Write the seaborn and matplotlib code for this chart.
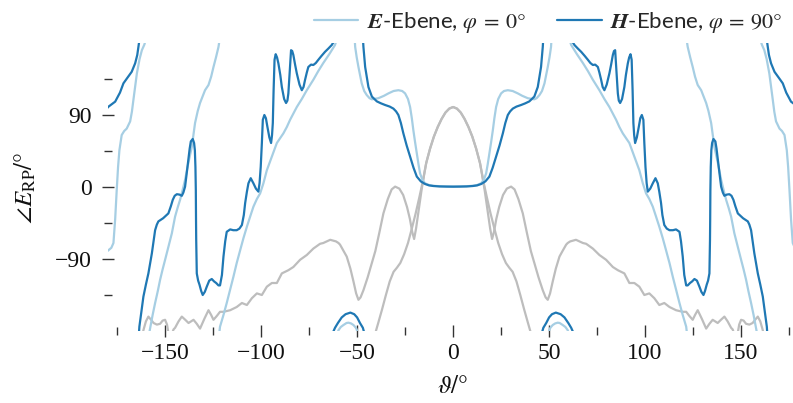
import matplotlib
matplotlib.use("Agg")
import matplotlib.pyplot as plt
from matplotlib.lines import Line2D
from matplotlib.ticker import MultipleLocator
import pandas as pd
import seaborn as sns

# ---------------------------------------------------------------------------
# Phase of the radiated far field vs. elevation angle (values for theta <= 0;
# the pattern is symmetric in theta, the other half is its mirror image).
# Segments are split where the phase wraps around at +/-180 degrees.
# ---------------------------------------------------------------------------

# E-plane (phi = 0 deg)
E_THETA_1 = [-180, -179.5, -178, -176.9, -176, -175.2, -174.5, -173.8, -172.6, -171.3, -170, -168.2,
             -167.3, -166.5, -164.7, -163.3, -162.1, -160.8, -160.2]
E_PHASE_1 = [-80, -79, -76, -70, -40, -4, 25, 46, 65, 70, 73, 82,
             94, 109, 142, 160, 171, 178, 183]
E_THETA_2 = [-158.3, -157.8, -156.5, -155.2, -153.8, -152.6, -151.3, -150, -148.3, -146.5, -144.8,
             -143.5, -142.2, -140.9, -139.6, -137.9, -136.1, -134.4, -133, -131.8, -129.2, -127.4,
             -126, -124.8, -123.5, -122.2, -121.7]
E_PHASE_2 = [-183, -176.6, -160, -145, -130, -116, -103, -91, -75, -58, -37,
             -26, -16, -4, 9, 30, 50, 80, 95, 105, 121, 127.5,
             138, 150, 162, 175, 183]
E_THETA_3 = [-121.8, -121.4, -119.6, -117.9, -116.1, -114.4, -112.7, -110.9, -109.2, -107.4, -105.7,
             -104, -102.2, -100.5, -98.8, -97, -94.4, -91.8, -88.4, -86.6, -84.9, -81.4, -78.8,
             -76.2, -72.8, -70.2, -67.6, -64.5, -61.5, -60.8]
E_PHASE_3 = [-183, -174.6, -160, -145, -128, -112, -95, -79, -64, -49.6, -37,
             -24.6, -15, -8, 4.6, 21, 38, 55, 67, 75, 84, 100, 110,
             121, 134, 145, 155, 166, 177.5, 183]
E_THETA_4 = [-60.3, -59.7, -58.5, -57.1, -55.5, -54.5, -53.2, -51.9, -50.8, -50.2, -49.8]
E_PHASE_4 = [-183, -179, -175, -172.5, -170, -169.6, -170.5, -172.5, -175.5, -178, -183]
E_THETA_C = [-51.2, -51, -50.2, -49.3, -47.6, -46.3, -45, -43.5, -42.3, -38.9, -36, -33.7, -31,
             -28.5, -26.5, -25, -23.5, -22.4, -21.5, -20.7, -19.8, -18.9, -18, -17.2, -16,
             -14.6, -12.5, -10.3, -7, -3.5, 0]
E_PHASE_C = [183, 175, 162, 150, 129.6, 120, 115, 111, 109.6, 111, 114, 117, 120,
             121, 120, 117, 110, 100, 86, 71, 56, 42, 28, 17, 9,
             4.6, 2.5, 1.5, 1, 0.8, 0.7]

# H-plane (phi = 90 deg)
H_THETA_1 = [-180, -179.5, -176, -173.5, -171.7, -169.5, -167.4, -165.6, -164.5, -163.9, -163.5]
H_PHASE_1 = [99, 100.4, 106.7, 118, 129.6, 137, 144, 154.6, 165, 175, 182]
H_THETA_2 = [-163.6, -163.4, -162.3, -161.3, -160, -158.7, -156.9, -155.2, -154.3, -153.5, -151,
             -148.3, -147, -146, -145, -143.9, -142.5, -141.3, -140.5, -139.6, -138.8, -137.9,
             -137.2, -136.6, -135.6, -134.9, -134.5, -134.2, -134, -133.9, -133.8, -133.5, -132.8,
             -132.1, -131.2, -130.4, -129.3, -128.3, -127, -125.7, -124.5, -123.4, -122.2, -121.4,
             -120.4, -119.6, -118.7, -117.9, -116.1, -114.5, -112.7, -111.3, -110, -109, -108.3,
             -107.4, -106.6, -105.4, -104, -102.7, -101.4, -100.8, -100.2, -99.6, -99.1, -98.3,
             -97.5, -96.7, -95.7, -94.8, -94.3, -93.9, -93.5, -93, -92.4, -91.7, -91, -90, -89.2,
             -88, -87, -86.3, -85.8, -85.2, -84.4, -83.8, -83.2, -82.3, -81.4, -80, -78.8, -77.9,
             -77.1, -76.2, -75.4, -74, -72.8, -71.5, -70.2, -68.5, -66.7, -65, -63.2, -62.3]
H_PHASE_2 = [-182, -174.6, -155, -137, -122, -108, -83, -54, -47, -43, -39,
             -33, -24, -16, -11, -9, -9.5, -11, -7, 0.4, 16, 34,
             48, 57, 60, 55, 46, 25, -4, -40, -66, -108, -117,
             -122, -130, -135, -131, -124.6, -117, -115, -118, -120, -123, -123,
             -110, -87, -68, -56, -53, -54, -54, -52, -47.5, -35, -20,
             -6, 4.6, 11, 4.6, -2, -5.8, 5, 25, 55, 84, 90,
             86, 75, 62, 55, 65, 80, 120, 159, 166, 162, 154.6, 140, 125,
             110, 105, 108, 117, 140, 171, 170, 165, 153, 142, 128, 121, 125,
             134, 143, 150, 153, 152.5, 155, 159, 164, 169, 173, 177.5, 181]
H_THETA_3 = [-62.8, -61.5, -60, -58, -56, -53.5, -51.5, -50, -48.5, -47, -46.3]
H_PHASE_3 = [-183, -176, -170, -163, -159, -157, -159, -163, -170, -176, -182]
H_THETA_C = [-46.9, -46.7, -45.8, -44.1, -42.3, -39.7, -37.5, -35.4, -33, -31.1, -29.7, -28.5,
             -27.2, -25.9, -24.2, -22.4, -20.6, -18.9, -16.8, -14.6, -12.5, -10.3, -7, -3.5, 0]
H_PHASE_C = [183, 175, 150, 125, 113, 107, 104.5, 102.5, 100.5, 98, 94.5, 90,
             80, 67, 52, 38, 24, 13, 7, 3.75, 2, 1.25, 0.7, 0.5, 0.4]

# Reference patterns (grey)
GA_THETA = [-41, -40.2, -39, -37, -35, -33, -31, -29.3, -27.5, -25.5, -23.5, -21.5, -19.5,
            -17.5, -15.6, -14, -12, -10, -8, -6, -4, -2, 0]
GA_VALUE = [-188, -180, -170, -153, -135, -118, -106, -101, -95, -84, -70, -52, -33,
            -12, 9, 30, 48, 63, 75, 85, 93, 98, 100]
GB_THETA = [-162, -161.3, -160, -158.7, -157.3, -156, -154.3, -152.6, -151.3, -150, -149, -148.3,
            -147.5, -146.5, -145.6, -144.8, -143, -141.3, -139.5, -137.8, -136.5, -135.2, -133.5,
            -131.8, -129.6, -127.4, -126, -124.8, -123, -121.4, -119.6, -116.1, -112.7, -110,
            -107.4, -104.8, -102.2, -99.6, -97, -94.4, -91.8, -89.2, -85.8, -83.2, -79.7, -76.2,
            -72.8, -69.3, -67.6, -64, -61, -59.7, -58.9, -57, -55.4, -53.5, -51.9, -50.5, -49.3,
            -48.2, -46.7, -44.5, -42.3, -40.5, -38.5, -36.3, -34, -32, -30.2, -28, -26, -24,
            -22.5, -21.3, -20.3, -19.3, -18, -16.5, -15, -14, -12, -10, -8, -6, -4, -2, 0]
GB_VALUE = [-190, -179, -168, -162, -166, -170, -172, -171, -167, -166, -172, -182,
            -186, -184, -178, -176, -168, -162, -166, -170, -168, -166, -171,
            -177, -165, -154, -160, -166, -161, -156, -156, -154, -150, -145,
            -147.5, -139, -133, -135, -124.6, -120, -120, -108, -104, -100, -91, -85,
            -77, -71, -70, -66, -68, -70, -72, -80, -87, -102, -118, -133, -141,
            -138, -129, -113, -95, -80, -58, -33, -15, -3, 0.5, -2, -10, -25,
            -40, -56, -65, -52, -30, -5, 17, 30, 48, 63, 75, 85, 93, 98, 100]


def frame(segments, center):
    """Long-form table: every wrapped segment plus its mirror image."""
    parts = []
    k = 0
    for th, ph in segments:
        parts.append(pd.DataFrame({"theta": th, "phase": ph, "seg": k}))
        k += 1
        parts.append(pd.DataFrame({"theta": [-t for t in th][::-1], "phase": ph[::-1], "seg": k}))
        k += 1
    th, ph = center
    full_th = list(th) + [-t for t in th[:-1]][::-1]
    full_ph = list(ph) + list(ph[:-1])[::-1]
    parts.append(pd.DataFrame({"theta": full_th, "phase": full_ph, "seg": k}))
    return pd.concat(parts, ignore_index=True)


df_e = frame([(E_THETA_1, E_PHASE_1), (E_THETA_2, E_PHASE_2), (E_THETA_3, E_PHASE_3),
              (E_THETA_4, E_PHASE_4)], (E_THETA_C, E_PHASE_C))
df_h = frame([(H_THETA_1, H_PHASE_1), (H_THETA_2, H_PHASE_2), (H_THETA_3, H_PHASE_3)],
             (H_THETA_C, H_PHASE_C))
df_ga = frame([], (GA_THETA, GA_VALUE))
df_gb = frame([], (GB_THETA, GB_VALUE))

C_LIGHT = "#a6cee3"
C_DARK = "#1f78b4"
C_GREY = "#bdbdbd"

sns.set_theme(style="white")
plt.rcParams["font.family"] = ["Liberation Serif", "DejaVu Serif"]
plt.rcParams["mathtext.fontset"] = "stix"

W, H = 793, 403
fig = plt.figure(figsize=(W / 100, H / 100), dpi=100)
# axes box in pixels: x from -180 -> 107.5 to 180 -> 798.7 ; y from 179.5 -> 43.4 to -179.5 -> 330.6
left_px, right_px, top_px, bot_px = 107.5, 798.7, 43.4, 330.6
ax = fig.add_axes([left_px / W, 1 - bot_px / H, (right_px - left_px) / W, (bot_px - top_px) / H])

lw = 1.6
for d in (df_ga, df_gb):
    sns.lineplot(data=d, x="theta", y="phase", units="seg", estimator=None, sort=False,
                 color=C_GREY, lw=lw, ax=ax)
sns.lineplot(data=df_e, x="theta", y="phase", units="seg", estimator=None, sort=False,
             color=C_LIGHT, lw=lw, ax=ax)
sns.lineplot(data=df_h, x="theta", y="phase", units="seg", estimator=None, sort=False,
             color=C_DARK, lw=lw, ax=ax)

ax.set_xlim(-180, 180)
ax.set_ylim(-179.5, 179.5)
for s in ax.spines.values():
    s.set_visible(False)
ax.set_xlabel("")
ax.set_ylabel("")

ax.xaxis.set_major_locator(MultipleLocator(50))
ax.xaxis.set_minor_locator(MultipleLocator(25))
ax.yaxis.set_major_locator(MultipleLocator(90))
ax.yaxis.set_minor_locator(MultipleLocator(45))
ax.tick_params(which="both", direction="inout", color="#333333", width=1.0,
               bottom=True, left=True, labelsize=17, labelcolor="#111111")
ax.tick_params(which="major", length=8)
ax.tick_params(which="minor", length=5.4)
ax.tick_params(axis="x", which="major", pad=5)
ax.tick_params(axis="y", which="major", pad=7)
ax.set_xticks([-150, -100, -50, 0, 50, 100, 150])
ax.set_xticklabels(["\u2212150", "\u2212100", "\u221250", "0", "50", "100", "150"])
ax.set_yticks([-90, 0, 90])
ax.set_yticklabels(["\u221290", "0", "90"])

fig.text(25 / W, 1 - 188 / H, r"$\angle E_{\mathrm{RP}}/°$", rotation=90,
         ha="center", va="center", fontsize=18, color="#111111")
fig.text(453 / W, 1 - 387 / H, r"$\vartheta/°$", ha="center", va="center",
         fontsize=18, color="#111111")

handles = [Line2D([], [], color=C_LIGHT, lw=lw), Line2D([], [], color=C_DARK, lw=lw)]
labels = [r"$\mathbfit{E}$-Ebene, $\varphi\:=\:0°$", r"$\mathbfit{H}$-Ebene, $\varphi\:=\:90°$"]
fig.legend(handles, labels, loc="upper right", bbox_to_anchor=(1.0, 1.0), ncol=2,
           frameon=False, handlelength=2.0, handletextpad=0.4, columnspacing=1.4,
           borderaxespad=0.05, prop={"family": ["Lato", "DejaVu Sans"], "size": 16})

fig.savefig("out.png", dpi=100)
